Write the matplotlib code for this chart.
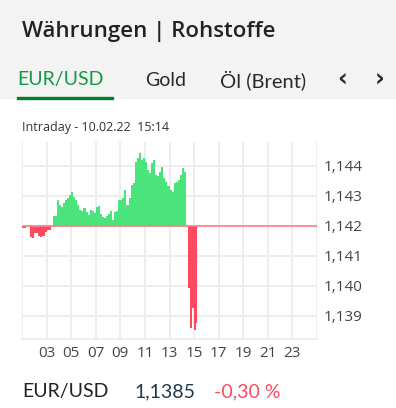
import numpy as np
import matplotlib.pyplot as plt
from matplotlib.patches import Rectangle

# intraday EUR/USD, 10-minute steps from 01:00
start_hour = 1.0
step_min = 10
prices = [
    1.14193, 1.14193, 1.14197, 1.14211, 1.14163, 1.14160, 1.14177, 1.14177,
    1.14167, 1.14163, 1.14167, 1.14180, 1.14187, 1.14187, 1.14183, 1.14233,
    1.14233, 1.14287, 1.14270, 1.14263, 1.14277, 1.14287, 1.14293, 1.14303,
    1.14313, 1.14297, 1.14287, 1.14270, 1.14253, 1.14250, 1.14260, 1.14247,
    1.14237, 1.14253, 1.14250, 1.14243, 1.14263, 1.14267, 1.14240, 1.14230,
    1.14227, 1.14233, 1.14240, 1.14250, 1.14220, 1.14247, 1.14250, 1.14287,
    1.14287, 1.14293, 1.14320, 1.14270, 1.14293, 1.14337, 1.14343, 1.14413,
    1.14427, 1.14443, 1.14420, 1.14427, 1.14413, 1.14387, 1.14377, 1.14410,
    1.14420, 1.14370, 1.14367, 1.14380, 1.14397, 1.14360, 1.14347, 1.14333,
    1.14320, 1.14313, 1.14343, 1.14347, 1.14353, 1.14370, 1.14393, 1.14380,
    1.14360, 1.13993, 1.13860, 1.13927, 1.13853, 1.13877, 1.13850,
]
last_time = 15 + 14 / 60
base = 1.1420
y_ticks = [1.139, 1.140, 1.141, 1.142, 1.143, 1.144]
y_labels = ['1,139', '1,140', '1,141', '1,142', '1,143', '1,144']
x_labels = ['03', '05', '07', '09', '11', '13', '15', '17', '19', '21', '23']

green = '#4be37b'
red = '#ff4a5e'

t = start_hour + np.arange(len(prices) - 1) * step_min / 60
t = np.append(t, last_time)
p = np.array(prices)

fig = plt.figure(figsize=(3.96, 4.08), dpi=100)
fig.patches.append(Rectangle((0, 1 - 98 / 408), 1, 98 / 408, transform=fig.transFigure,
                             color='#f3f3f3', zorder=0))
fig.patches.append(Rectangle((17 / 396, 1 - 99 / 408), 96 / 396, 2.5 / 408,
                             transform=fig.transFigure, color='#0a7d2c', zorder=1))

fig.text(22 / 396, 1 - 32 / 408, 'Währungen | Rohstoffe', fontsize=16, fontweight='semibold',
         family='Open Sans', color='#222222', va='center')
fig.text(17 / 396, 1 - 80 / 408, 'EUR/USD', fontsize=14, family='Lato', color='#139a43', va='center')
fig.text(145 / 396, 1 - 80 / 408, 'Gold', fontsize=14, family='Lato', color='#2a2a2a', va='center')
fig.text(220 / 396, 1 - 80 / 408, 'Öl (Brent)', fontsize=14.5, family='Lato', color='#2a2a2a', va='center')
fig.text(337 / 396, 1 - 80 / 408, '‹', fontsize=17, fontweight='bold', family='DejaVu Sans',
         color='#2a2a2a', va='center')
fig.text(375 / 396, 1 - 80 / 408, '›', fontsize=17, fontweight='bold', family='DejaVu Sans',
         color='#2a2a2a', va='center')
fig.text(22 / 396, 1 - 127 / 408, 'Intraday - 10.02.22  15:14', fontsize=9, family='Open Sans',
         color='#333333', va='center')

ax = fig.add_axes([22 / 396, 1 - 339 / 408, 295 / 396, 197 / 408])
ax.fill_between(t, p, base, where=p >= base, step='post', color=green, lw=0, zorder=2)
ax.fill_between(t, p, base, where=p <= base, step='post', color=red, lw=0, zorder=2)
ax.axhline(base, color='#ff7d88', lw=1.2, zorder=3)

ax.set_xlim(1, 25)
ax.set_ylim(1.138233, 1.1448)
ax.set_xticks(np.arange(1, 26, 2))
ax.set_xticklabels([''] + x_labels + [''])
ax.set_yticks(y_ticks)
ax.set_yticklabels(y_labels)
ax.yaxis.tick_right()
ax.grid(True, color='#eeeeee', lw=1.4, zorder=0)
ax.set_axisbelow(True)
for s in ['top', 'right', 'left']:
    ax.spines[s].set_visible(False)
ax.spines['bottom'].set_color('#eeeeee')
ax.spines['bottom'].set_linewidth(1.4)
ax.tick_params(length=0, labelsize=11, labelcolor='#444444')
ax.tick_params(axis='y', pad=5)
ax.tick_params(axis='x', pad=5)
for lab in ax.get_xticklabels() + ax.get_yticklabels():
    lab.set_family('Open Sans')

fig.text(22 / 396, 1 - 392 / 408, 'EUR/USD', fontsize=14, family='Lato', color='#222222', va='center')
fig.text(134 / 396, 1 - 392 / 408, '1,1385', fontsize=14, family='Lato', color='#1d3a4f', va='center')
fig.text(214 / 396, 1 - 392 / 408, '-0,30 %', fontsize=14, family='Lato', color='#ff4a5e', va='center')

fig.savefig('out.png', dpi=100)
